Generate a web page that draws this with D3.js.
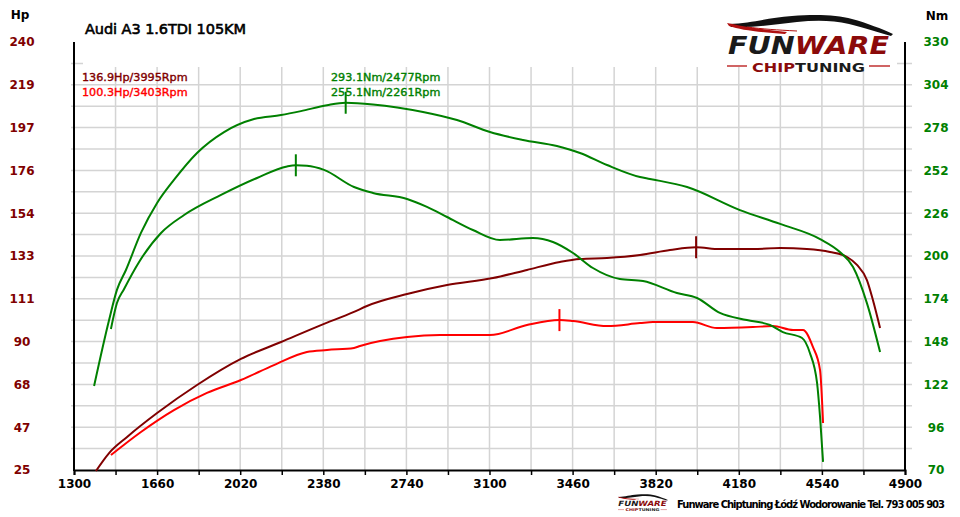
<!DOCTYPE html>
<html>
<head>
<meta charset="utf-8">
<script src="https://cdn.jsdelivr.net/npm/d3@7"></script>
<style>
  body { margin: 0; background: #fff; }
  svg { display: block; }
  text { font-family: "DejaVu Sans", Verdana, sans-serif; }
</style>
</head>
<body>
<svg id="root" width="960" height="517"></svg>
<script>
// ---- data ----
const title = "Audi A3 1.6TDI 105KM";

const rpmTicks = d3.range(1300, 4900.1, 180);
const rpmLabels = ["1300", "1660", "2020", "2380", "2740", "3100", "3460", "3820", "4180", "4540", "4900"];
const hpLabels = ["25", "47", "68", "90", "111", "133", "154", "176", "197", "219", "240"];
const nmLabels = ["70", "96", "122", "148", "174", "200", "226", "252", "278", "304", "330"];

// tuned power (Hp)
const hpTunedRpm = [1395, 1452, 1530, 1660, 1833, 2023, 2197, 2370, 2513, 2569, 2743, 2916, 3115, 3262, 3405, 3492, 3609, 3752, 3882, 3995, 4098, 4241, 4359, 4475, 4575, 4649, 4692, 4735, 4761, 4792];
const hpTuned    = [24.5, 33.5, 41.6, 53.6, 67.7, 80.8, 89.3, 97.8, 104.4, 107.4, 113.4, 117.9, 121.4, 125.5, 129.5, 131.0, 131.5, 133.0, 135.5, 136.9, 136.0, 136.0, 136.5, 136.0, 134.5, 132.0, 128.0, 120.4, 110.4, 96.3];

// stock power (Hp)
const hpStockRpm = [1460, 1590, 1733, 1876, 2023, 2166, 2309, 2396, 2513, 2539, 2743, 2886, 3102, 3262, 3403, 3462, 3609, 3752, 3808, 3981, 4085, 4241, 4328, 4415, 4458, 4501, 4532, 4545];
const hpStock    = [32.5, 44.1, 55.1, 63.7, 70.2, 77.7, 84.3, 85.3, 86.3, 87.3, 91.8, 92.8, 92.8, 97.8, 100.3, 99.8, 97.3, 98.8, 99.3, 99.3, 96.3, 96.8, 97.3, 95.3, 95.3, 86.8, 75.2, 48.6];

// tuned torque (Nm)
const nmTunedRpm = [1387, 1452, 1486, 1525, 1590, 1660, 1733, 1833, 1950, 2080, 2197, 2283, 2396, 2477, 2595, 2812, 2959, 3102, 3245, 3392, 3492, 3609, 3752, 3795, 3956, 4185, 4359, 4532, 4618, 4675, 4735, 4792];
const nmTuned    = [121.0, 161.1, 179.4, 191.5, 214.0, 232.2, 246.2, 262.6, 275.3, 283.2, 285.6, 288.0, 291.6, 293.1, 292.1, 287.5, 282.6, 275.3, 270.5, 266.8, 262.6, 255.3, 248.0, 246.8, 241.9, 227.9, 219.5, 210.3, 202.4, 193.3, 171.4, 141.7];

// stock torque (Nm)
const nmStockRpm = [1460, 1486, 1517, 1582, 1677, 1777, 1937, 2093, 2223, 2261, 2309, 2383, 2513, 2595, 2743, 2829, 2916, 3028, 3145, 3288, 3375, 3462, 3548, 3665, 3765, 3912, 3999, 4098, 4215, 4315, 4371, 4454, 4488, 4519, 4532, 4545];
const nmStock    = [155.7, 171.4, 180.0, 196.4, 214.0, 224.9, 237.1, 247.4, 254.4, 255.1, 254.8, 252.3, 241.9, 238.3, 234.6, 229.8, 223.7, 215.8, 209.7, 210.9, 208.5, 201.8, 192.7, 186.0, 184.8, 177.5, 174.5, 165.4, 161.1, 158.1, 153.8, 150.2, 141.1, 122.9, 102.2, 74.9];

const peaks = [
  { label: "136.9Hp/3995Rpm", rpm: 3995, val: 136.9, unit: "hp", color: "#800000" },
  { label: "100.3Hp/3403Rpm", rpm: 3403, val: 100.3, unit: "hp", color: "#ff0000" },
  { label: "293.1Nm/2477Rpm", rpm: 2477, val: 293.1, unit: "nm", color: "#008000" },
  { label: "255.1Nm/2261Rpm", rpm: 2261, val: 255.1, unit: "nm", color: "#008000" }
];

// ---- layout ----
const plotLeft = 74, plotRight = 905, plotTop = 42, plotBottom = 470;
const svg = d3.select("#root");

const x = d3.scaleLinear().domain([1300, 4900]).range([plotLeft, plotRight]);
const yHp = d3.scaleLinear().domain([25, 240]).range([plotBottom, plotTop]);
const yNm = d3.scaleLinear().domain([70, 330]).range([plotBottom, plotTop]);

// grid
const grid = svg.append("g").attr("stroke", "#d4d4d4").attr("stroke-width", 1.5);
grid.selectAll("line.v")
  .data(rpmTicks.slice(1, -1))
  .enter().append("line")
  .attr("x1", d => x(d)).attr("x2", d => x(d))
  .attr("y1", plotTop).attr("y2", plotBottom);
grid.selectAll("line.h")
  .data(d3.range(25 + 10.75, 240, 10.75))
  .enter().append("line")
  .attr("x1", plotLeft - 3).attr("x2", plotRight + 7)
  .attr("y1", d => yHp(d)).attr("y2", d => yHp(d));

// white band under the title keeps the top of the grid clear
svg.append("rect").attr("x", plotLeft + 9).attr("y", plotTop - 2)
  .attr("width", plotRight - plotLeft - 17).attr("height", 27).attr("fill", "#fff");

// axes
const xAxis = d3.axisBottom(x).tickValues(rpmTicks).tickSize(5)
  .tickFormat(d => ((d - 1300) % 360 === 0 ? String(d) : ""));
const gx = svg.append("g").attr("transform", `translate(0,${plotBottom})`).call(xAxis);
gx.select(".domain").attr("stroke", "#000").attr("stroke-width", 2);
gx.selectAll(".tick line").attr("stroke", "#000").attr("stroke-width", 1.5);
gx.selectAll(".tick text")
  .attr("font-family", "DejaVu Sans Condensed, DejaVu Sans, sans-serif")
  .attr("font-weight", "bold").attr("font-size", 12).attr("fill", "#000").attr("dy", "0.85em");

const hpAxis = d3.axisLeft(yHp).tickValues(d3.range(25, 240.1, 21.5)).tickSize(0)
  .tickFormat((d, i) => hpLabels[i]);
const gl = svg.append("g").attr("transform", `translate(${plotLeft},0)`).call(hpAxis);
gl.select(".domain").remove();
gl.selectAll(".tick text")
  .attr("x", -52).attr("text-anchor", "middle")
  .attr("font-family", "DejaVu Sans Condensed, DejaVu Sans, sans-serif")
  .attr("font-weight", "bold").attr("font-size", 12).attr("fill", "#800000");

const nmAxis = d3.axisRight(yNm).tickValues(d3.range(70, 330.1, 26)).tickSize(0)
  .tickFormat((d, i) => nmLabels[i]);
const gr = svg.append("g").attr("transform", `translate(${plotRight},0)`).call(nmAxis);
gr.select(".domain").remove();
gr.selectAll(".tick text")
  .attr("x", 31).attr("text-anchor", "middle")
  .attr("font-family", "DejaVu Sans Condensed, DejaVu Sans, sans-serif")
  .attr("font-weight", "bold").attr("font-size", 12).attr("fill", "#008000");

svg.append("line").attr("x1", plotLeft).attr("x2", plotLeft).attr("y1", plotTop).attr("y2", plotBottom + 1)
  .attr("stroke", "#000").attr("stroke-width", 2);
svg.append("line").attr("x1", plotRight).attr("x2", plotRight).attr("y1", plotTop).attr("y2", plotBottom + 1)
  .attr("stroke", "#000").attr("stroke-width", 2);

// unit labels and title
svg.append("text").attr("x", 20).attr("y", 19).attr("text-anchor", "middle")
  .attr("font-weight", "bold").attr("font-size", 12).text("Hp");
svg.append("text").attr("x", 937).attr("y", 20).attr("text-anchor", "middle")
  .attr("font-weight", "bold").attr("font-size", 12).text("Nm");
svg.append("text").attr("x", 85).attr("y", 34)
  .attr("font-size", 14.5).attr("fill", "#000").attr("textLength", 161)
  .attr("stroke", "#000").attr("stroke-width", 0.6)
  .text(title);

// curves
const series = [
  { rpm: hpTunedRpm, val: hpTuned, y: yHp, color: "#800000" },
  { rpm: hpStockRpm, val: hpStock, y: yHp, color: "#ff0000" },
  { rpm: nmTunedRpm, val: nmTuned, y: yNm, color: "#008000" },
  { rpm: nmStockRpm, val: nmStock, y: yNm, color: "#008000" }
];

svg.append("g").selectAll("path")
  .data(series)
  .enter().append("path")
  .attr("fill", "none")
  .attr("stroke", s => s.color)
  .attr("stroke-width", 2)
  .attr("stroke-linejoin", "round")
  .attr("d", s => d3.line()
    .curve(d3.curveMonotoneX)
    .x((r) => x(r))
    .y((r, i) => s.y(s.val[i]))(s.rpm));

// peak markers
svg.append("g").selectAll("line")
  .data(peaks)
  .enter().append("line")
  .attr("x1", d => x(d.rpm)).attr("x2", d => x(d.rpm))
  .attr("y1", d => (d.unit === "hp" ? yHp(d.val) : yNm(d.val)) - 11)
  .attr("y2", d => (d.unit === "hp" ? yHp(d.val) : yNm(d.val)) + 11)
  .attr("stroke", d => d.color).attr("stroke-width", 2);

// peak readouts
svg.append("g").selectAll("text")
  .data(peaks)
  .enter().append("text")
  .attr("x", (d, i) => (i < 2 ? 82 : 331))
  .attr("y", (d, i) => (i % 2 === 0 ? 81 : 96))
  .attr("font-size", 11.2)
  .attr("fill", d => d.color)
  .attr("stroke", d => d.color).attr("stroke-width", 0.4)
  .text(d => d.label);

// logo
function logo(g) {
  g.append("path")
    .attr("d", "M2,10 C25,9 40,4 65,2 C90,0 110,1 125,5 C140,9 155,15 166,20 L164,22 C150,18 138,14 122,10 C105,6 88,6 70,8 C50,10 30,14 4,13 Z")
    .attr("fill", "#111");
  g.append("path")
    .attr("d", "M0,9 C15,12 30,15 60,18 L58,20 C30,18 14,16 2,12 Z")
    .attr("fill", "#b01010");
  g.append("path")
    .attr("d", "M20,13 C35,15 50,16 70,17")
    .attr("fill", "none").attr("stroke", "#b01010").attr("stroke-width", 1);
  const t = g.append("text").attr("x", 1).attr("y", 40)
    .attr("font-size", 24).attr("font-weight", "bold").attr("font-style", "italic")
    .attr("textLength", 161).attr("lengthAdjust", "spacingAndGlyphs");
  t.append("tspan").attr("fill", "#1a1a1a").text("FUN");
  t.append("tspan").attr("fill", "#8b0a0a").text("WARE");
  const c = g.append("text").attr("x", 25).attr("y", 57.5)
    .attr("font-size", 12.5).attr("font-weight", "bold")
    .attr("textLength", 113).attr("lengthAdjust", "spacingAndGlyphs");
  c.append("tspan").attr("fill", "#8b0a0a").text("CHIP");
  c.append("tspan").attr("fill", "#1a1a1a").text("TUNING");
  g.append("line").attr("x1", 0).attr("x2", 20).attr("y1", 52).attr("y2", 52)
    .attr("stroke", "#c03030").attr("stroke-width", 1.5);
  g.append("line").attr("x1", 142).attr("x2", 163).attr("y1", 52).attr("y2", 52)
    .attr("stroke", "#c03030").attr("stroke-width", 1.5);
}
logo(svg.append("g").attr("transform", "translate(727,14)"));
logo(svg.append("g").attr("transform", "translate(618,494) scale(0.3)"));

svg.append("text").attr("x", 677).attr("y", 508)
  .attr("font-size", 10).attr("font-weight", "bold").attr("fill", "#000")
  .attr("textLength", 268)
  .text("Funware Chiptuning Łódź Wodorowanie Tel. 793 005 903");
</script>
</body>
</html>
